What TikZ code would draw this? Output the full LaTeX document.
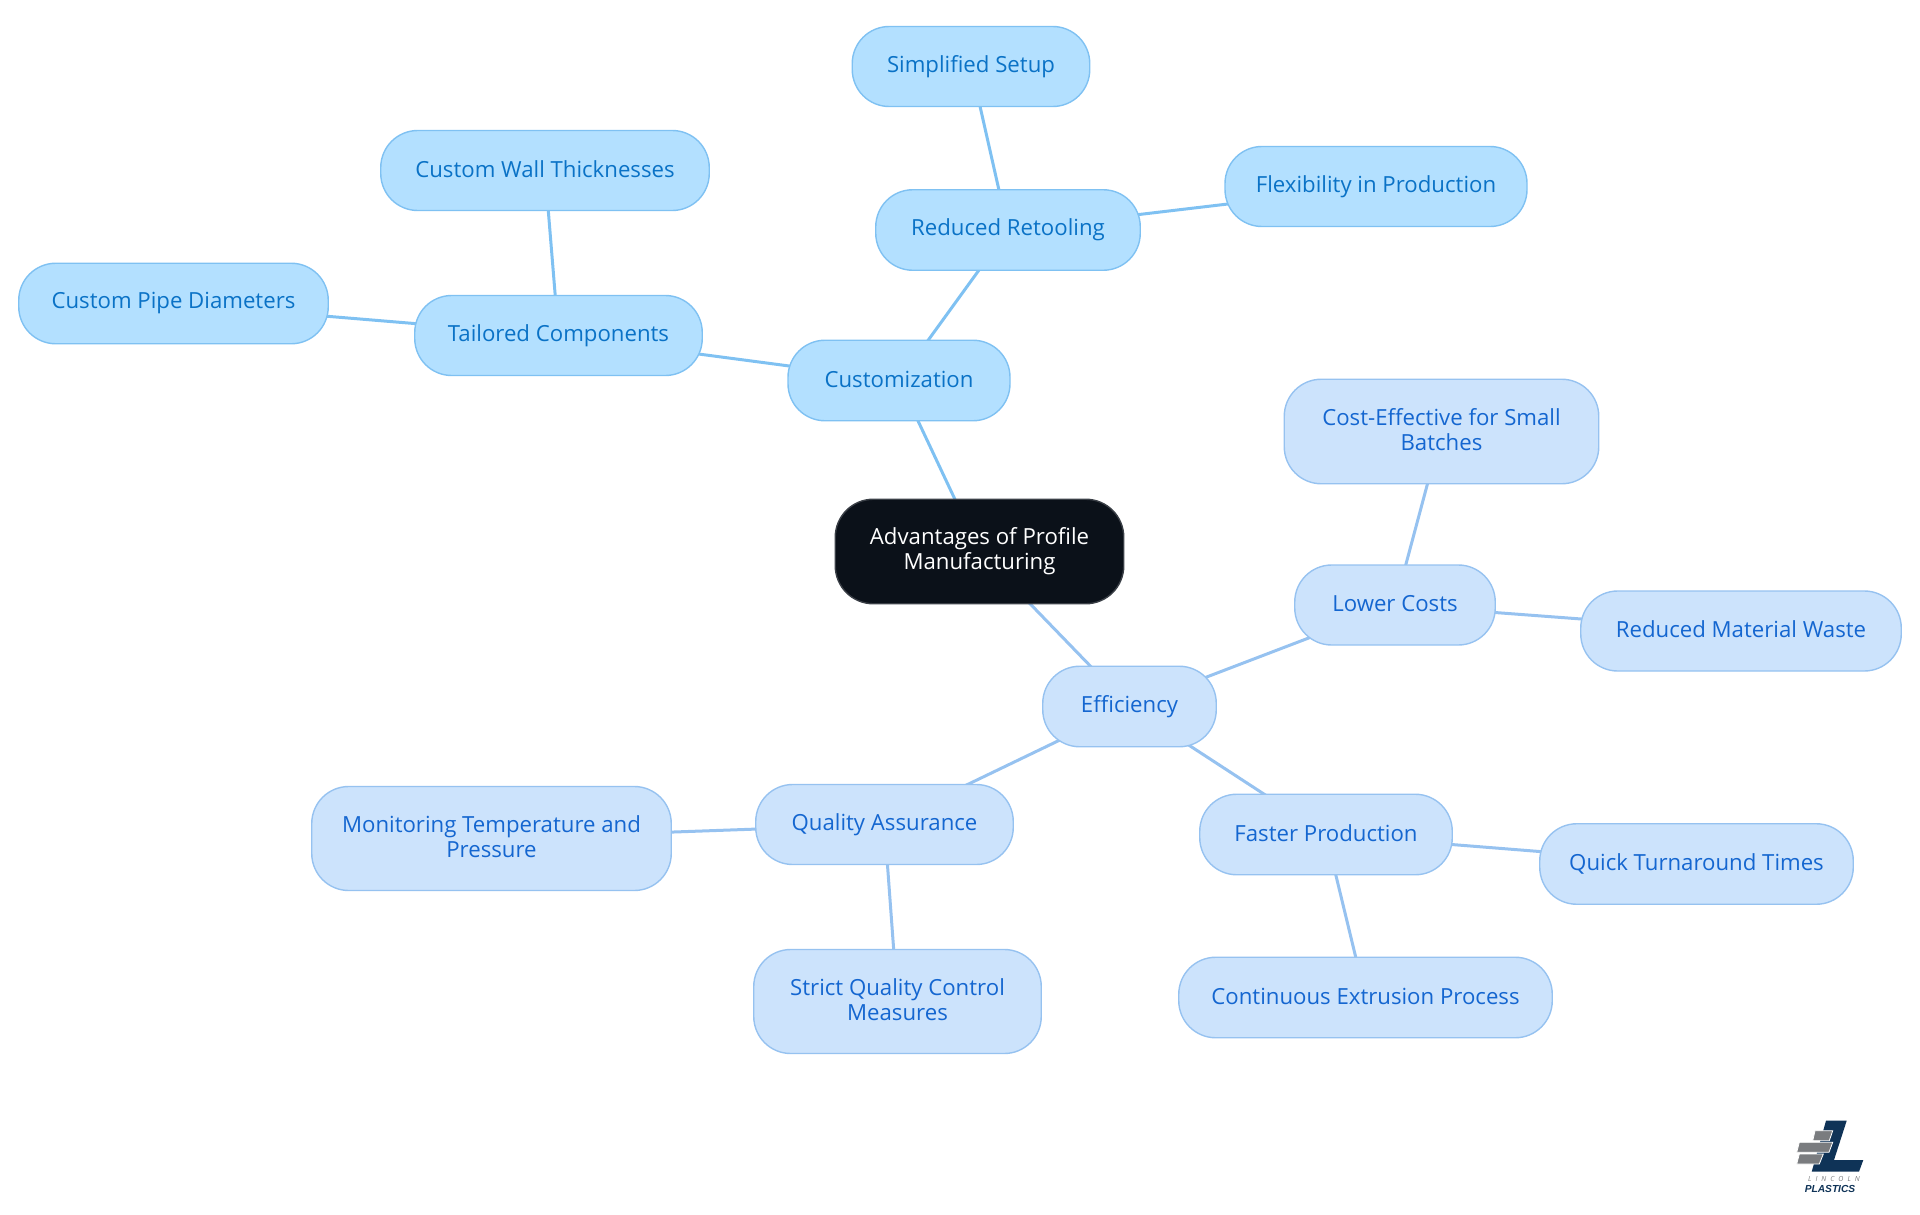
\documentclass[tikz,border=0pt]{standalone}
\usepackage{fontspec}
\setmainfont{Open Sans}
\usetikzlibrary{backgrounds}
\definecolor{cfill}{HTML}{B3E0FF}
\definecolor{cline}{HTML}{7FC1F2}
\definecolor{ctext}{HTML}{0A72C6}
\definecolor{efill}{HTML}{CCE3FC}
\definecolor{eline}{HTML}{96C2F0}
\definecolor{etext}{HTML}{1466D0}
\definecolor{rootfill}{HTML}{0B1119}
\definecolor{rootline}{HTML}{3A3F46}
\definecolor{logonavy}{HTML}{0F3357}
\definecolor{logogray}{HTML}{7A7C7F}
\newcommand{\sr}{\rule[-3pt]{0pt}{17.5pt}}
\tikzset{
  box/.style={rectangle,rounded corners=37pt,line width=1.4pt,inner sep=0pt,align=center,
    font=\fontsize{22.2}{25}\selectfont},
  cbox/.style={box,fill=cfill,draw=cline,text=ctext},
  ebox/.style={box,fill=efill,draw=eline,text=etext},
  rootbox/.style={box,rounded corners=38pt,fill=rootfill,draw=rootline,text=white},
  cedge/.style={draw=cline,line width=3pt},
  eedge/.style={draw=eline,line width=3pt},
  brick/.style={fill=logogray,draw=white,line width=0.8pt},
}
\begin{document}
\begin{tikzpicture}[x=1pt,y=-1pt]
\useasboundingbox (0,0) rectangle (1920,1215);
\node[rootbox,minimum width=288.5pt,minimum height=104.5pt] (root) at (979.5,551.5) {\sr Advantages of Profile\\\sr Manufacturing};
\node[cbox,minimum width=222pt,minimum height=80.5pt] (cust) at (899,380.5) {\sr Customization};
\node[cbox,minimum width=287.5pt,minimum height=80pt] (tail) at (558.5,335.5) {\sr Tailored Components};
\node[cbox,minimum width=328.5pt,minimum height=80pt] (wall) at (545,170.5) {\sr Custom Wall Thicknesses};
\node[cbox,minimum width=309.5pt,minimum height=80.5pt] (pipe) at (173.5,303.5) {\sr Custom Pipe Diameters};
\node[cbox,minimum width=264.5pt,minimum height=80.5pt] (retool) at (1008,230) {\sr Reduced Retooling};
\node[cbox,minimum width=237.5pt,minimum height=80pt] (setup) at (971,66.5) {\sr Simplified Setup};
\node[cbox,minimum width=302pt,minimum height=80pt] (flex) at (1376,186.5) {\sr Flexibility in Production};
\node[ebox,minimum width=173.5pt,minimum height=80.5pt] (eff) at (1129.5,706.5) {\sr Efficiency};
\node[ebox,minimum width=200.5pt,minimum height=80pt] (lower) at (1395,605) {\sr Lower Costs};
\node[ebox,minimum width=314.5pt,minimum height=104.5pt] (batch) at (1441.5,431.5) {\sr Cost-Effective for Small\\\sr Batches};
\node[ebox,minimum width=320.5pt,minimum height=80pt] (waste) at (1741,631) {\sr Reduced Material Waste};
\node[ebox,minimum width=252.5pt,minimum height=80.5pt] (fast) at (1326,834.5) {\sr Faster Production};
\node[ebox,minimum width=313.5pt,minimum height=80.5pt] (quick) at (1696.5,864) {\sr Quick Turnaround Times};
\node[ebox,minimum width=373.5pt,minimum height=80.5pt] (cont) at (1365.5,997.5) {\sr Continuous Extrusion Process};
\node[ebox,minimum width=257.5pt,minimum height=80pt] (qual) at (884.5,824.5) {\sr Quality Assurance};
\node[ebox,minimum width=359.5pt,minimum height=104pt] (moni) at (491.5,838.5) {\sr Monitoring Temperature and\\\sr Pressure};
\node[ebox,minimum width=287.5pt,minimum height=104pt] (strict) at (897.5,1001.5) {\sr Strict Quality Control\\\sr Measures};
\begin{scope}[on background layer]
\draw[cedge] (root.center) -- (cust.center);
\draw[cedge] (cust.center) -- (tail.center);
\draw[cedge] (cust.center) -- (retool.center);
\draw[cedge] (tail.center) -- (wall.center);
\draw[cedge] (tail.center) -- (pipe.center);
\draw[cedge] (retool.center) -- (setup.center);
\draw[cedge] (retool.center) -- (flex.center);
\draw[eedge] (root.center) -- (eff.center);
\draw[eedge] (eff.center) -- (lower.center);
\draw[eedge] (eff.center) -- (fast.center);
\draw[eedge] (eff.center) -- (qual.center);
\draw[eedge] (lower.center) -- (batch.center);
\draw[eedge] (lower.center) -- (waste.center);
\draw[eedge] (fast.center) -- (quick.center);
\draw[eedge] (fast.center) -- (cont.center);
\draw[eedge] (qual.center) -- (moni.center);
\draw[eedge] (qual.center) -- (strict.center);
\end{scope}
% logo
\fill[logonavy] (1826,1120.7) -- (1846.7,1120.7) -- (1834,1160) -- (1863.3,1160) -- (1859,1171.7) -- (1811.7,1171.7) -- cycle;
\filldraw[brick] (1815,1130.7) -- (1832.7,1130.7) -- (1829.3,1140.7) -- (1812.7,1140.7) -- cycle;
\filldraw[brick] (1799.3,1142.3) -- (1832.7,1142.3) -- (1829,1152.3) -- (1796.7,1152.3) -- cycle;
\filldraw[brick] (1799.3,1154) -- (1823.3,1154) -- (1819.3,1164) -- (1796.7,1164) -- cycle;
\node[inner sep=0pt,text=logogray,font=\fontsize{7}{8}\selectfont\itshape] (logotop) at (1834,1178.5) {L\hspace{4pt}I\hspace{4pt}N\hspace{4pt}C\hspace{4pt}O\hspace{4pt}L\hspace{4pt}N};
\node[inner sep=0pt,text=logonavy,font={\fontspec{Liberation Sans}\fontsize{10.2}{12}\selectfont\bfseries\itshape}] (logobot) at (1830,1188.5) {PLASTICS};
\end{tikzpicture}
\end{document}
